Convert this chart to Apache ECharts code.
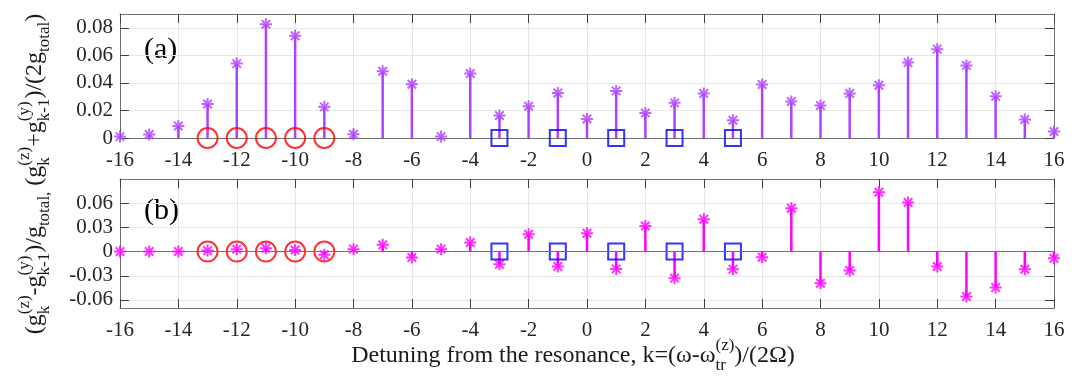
<!DOCTYPE html>
<html>
<head>
<meta charset="utf-8">
<script src="https://cdn.jsdelivr.net/npm/echarts@6/dist/echarts.min.js"></script>
<style>
  html, body { margin: 0; padding: 0; background: #fff; }
  #chart { width: 1081px; height: 384px; }
</style>
</head>
<body>
<div id="chart"></div>
<script>
// detuning index k
const kValues = [-16, -15, -14, -13, -12, -11, -10, -9, -8, -7, -6, -5, -4, -3, -2, -1, 0,
  1, 2, 3, 4, 5, 6, 7, 8, 9, 10, 11, 12, 13, 14, 15, 16];
// panel (a): (g_k^z + g_{k-1}^y) / (2 g_total)
const sumValues = [0.001, 0.0025, 0.0087, 0.0247, 0.054, 0.0825, 0.0742, 0.0226, 0.0027, 0.0485, 0.039, 0.001, 0.0468,
  0.0163, 0.023, 0.0327, 0.0138, 0.0342, 0.0182, 0.0255, 0.0323, 0.0129, 0.0388, 0.0265, 0.0236,
  0.0323, 0.0383, 0.0548, 0.0645, 0.0527, 0.0303, 0.0134, 0.0047];
// panel (b): (g_k^z - g_{k-1}^y) / g_total
const diffValues = [0, 0, 0, 0.0012, 0.003, 0.004, 0.002, -0.004, 0.003, 0.0083, -0.0074, 0.003, 0.0112,
  -0.0157, 0.0215, -0.0186, 0.0227, -0.0215, 0.0318, -0.033, 0.040, -0.0219, -0.007, 0.0537, -0.0393,
  -0.0235, 0.0736, 0.0608, -0.0186, -0.0558, -0.0446, -0.0219, -0.0083];
// marked resonances
const circleK = [-13, -12, -11, -10, -9];
const squareK = [-3, -1, 1, 3, 5];
const topTicks = [0, 0.02, 0.04, 0.06, 0.08];
const bottomTicks = [-0.06, -0.03, 0, 0.03, 0.06];

const FONT = '"Liberation Serif", "Times New Roman", serif';
const purple = '#B040FF';
const magenta = '#FF00FF';
const asterisk = 'path://M0,-10L0,10M-10,0L10,0M-7.07,-7.07L7.07,7.07M-7.07,7.07L7.07,-7.07';

const chart = echarts.init(document.getElementById('chart'));

const measureCtx = document.createElement('canvas').getContext('2d');
function textWidth(t, size) {
  measureCtx.font = size + 'px ' + FONT;
  return measureCtx.measureText(t).width;
}

// strings are normal text, [sub, sup] pairs are stacked scripts
function mathText(runs, size) {
  const small = Math.round(size * 0.72);
  const parts = [];
  let x = 0;
  const txt = (t, px, py, fs) => ({
    type: 'text', x: px, y: py, silent: true,
    style: { text: t, fontSize: fs, fontFamily: FONT, fill: '#1a1a1a', verticalAlign: 'middle', align: 'left' }
  });
  runs.forEach(r => {
    if (typeof r === 'string') {
      parts.push(txt(r, x, 0, size));
      x += textWidth(r, size);
    } else {
      let w = 0;
      if (r[0]) { parts.push(txt(r[0], x, size * 0.38, small)); w = Math.max(w, textWidth(r[0], small)); }
      if (r[1]) { parts.push(txt(r[1], x, -size * 0.42, small)); w = Math.max(w, textWidth(r[1], small)); }
      x += w;
    }
  });
  parts.forEach(p => { p.x -= x / 2; });
  return parts;
}

const yTitle = mathText(['(g', ['k', '(z)'], '-g', ['k-1', '(y)'], ')/g', ['total,', null], ' (g', ['k', '(z)'],
  '+g', ['k-1', '(y)'], ')/(2g', ['total', null], ')'], 24);
const xTitle = mathText(['Detuning from the resonance, k=(\u03c9-\u03c9', ['tr', '(z)'], ')/(2\u03a9)'], 24);

function xAxisFor(grid, pos, labels) {
  return {
    type: 'value', gridIndex: grid, position: pos, min: -16, max: 16, interval: 2,
    axisLine: { show: true, onZero: false, lineStyle: { color: '#707070', width: 1 } },
    axisTick: { show: true, inside: true, length: 9, lineStyle: { color: '#404040' } },
    axisLabel: { show: labels, margin: 12, fontSize: 21, fontFamily: FONT, color: '#262626' },
    splitLine: { show: labels, lineStyle: { color: '#e6e6e6' } }
  };
}
function yAxisFor(grid, pos, min, max, ticks, labels) {
  return {
    type: 'value', gridIndex: grid, position: pos, min, max,
    axisLine: { show: true, onZero: false, lineStyle: { color: '#707070', width: 1 } },
    axisTick: { show: true, inside: true, length: 9, customValues: ticks, lineStyle: { color: '#404040' } },
    axisLabel: { show: labels, customValues: ticks, margin: 7, fontSize: 21, fontFamily: FONT, color: '#262626' },
    splitLine: { show: labels, lineStyle: { color: '#e6e6e6' } }
  };
}

chart.setOption({
  animation: false,
  grid: [
    { left: 120, right: 27, top: 14, height: 124 },
    { left: 120, right: 27, top: 179, height: 129 }
  ],
  xAxis: [xAxisFor(0, 'bottom', true), xAxisFor(0, 'top', false), xAxisFor(1, 'bottom', true), xAxisFor(1, 'top', false)],
  yAxis: [
    yAxisFor(0, 'left', 0, 0.09, topTicks, true),
    yAxisFor(0, 'right', 0, 0.09, topTicks, false),
    yAxisFor(1, 'left', -0.07, 0.09, bottomTicks, true),
    yAxisFor(1, 'right', -0.07, 0.09, bottomTicks, false)
  ],
  series: [
    {
      type: 'bar', xAxisIndex: 0, yAxisIndex: 0, barWidth: 2.5, silent: true,
      itemStyle: { color: purple },
      data: kValues.map((k, i) => [k, sumValues[i]])
    },
    {
      type: 'scatter', xAxisIndex: 0, yAxisIndex: 0, symbol: asterisk, symbolSize: 12, clip: false, silent: true,
      itemStyle: { color: purple, borderColor: purple, borderWidth: 2 },
      data: kValues.map((k, i) => [k, sumValues[i]])
    },
    {
      type: 'bar', xAxisIndex: 2, yAxisIndex: 2, barWidth: 2.5, silent: true,
      itemStyle: { color: magenta },
      markLine: {
        silent: true, symbol: 'none', label: { show: false },
        lineStyle: { color: '#707070', type: 'solid', width: 1 },
        data: [{ yAxis: 0 }]
      },
      data: kValues.map((k, i) => [k, diffValues[i]])
    },
    {
      type: 'scatter', xAxisIndex: 2, yAxisIndex: 2, symbol: asterisk, symbolSize: 12, clip: false, silent: true,
      itemStyle: { color: magenta, borderColor: magenta, borderWidth: 2 },
      data: kValues.map((k, i) => [k, diffValues[i]])
    },
    ...[0, 2].map(ax => ({
      type: 'scatter', xAxisIndex: ax, yAxisIndex: ax, symbol: 'circle', symbolSize: 20, clip: false, silent: true,
      itemStyle: { color: 'rgba(0,0,0,0)', borderColor: '#FF0000', borderWidth: 2 },
      data: circleK.map(k => [k, 0])
    })),
    ...[0, 2].map(ax => ({
      type: 'scatter', xAxisIndex: ax, yAxisIndex: ax, symbol: 'rect', symbolSize: 16, clip: false, silent: true,
      itemStyle: { color: 'rgba(0,0,0,0)', borderColor: '#0000FF', borderWidth: 2 },
      data: squareK.map(k => [k, 0])
    }))
  ],
  graphic: [
    { type: 'group', x: 35, y: 174, rotation: Math.PI / 2, children: yTitle },
    { type: 'group', x: 573, y: 356, children: xTitle },
    { type: 'text', x: 144, y: 50, style: { text: '(a)', fontSize: 30, fontFamily: FONT, fill: '#000', verticalAlign: 'middle' } },
    { type: 'text', x: 144, y: 211, style: { text: '(b)', fontSize: 30, fontFamily: FONT, fill: '#000', verticalAlign: 'middle' } }
  ]
});
</script>
</body>
</html>
